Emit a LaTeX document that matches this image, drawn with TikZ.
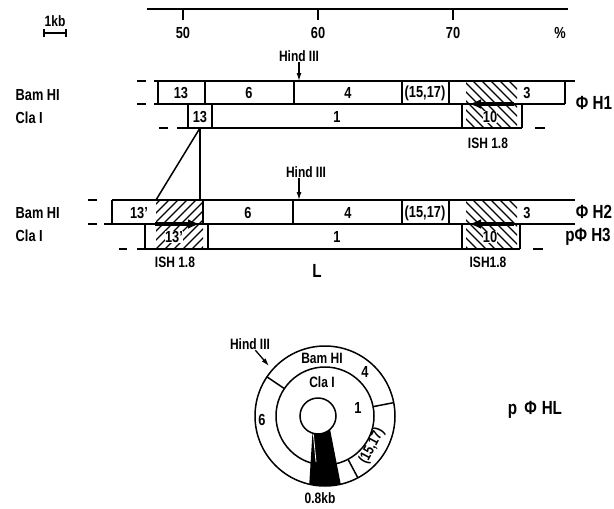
\documentclass[tikz,border=0pt]{standalone}
\usepackage{fontspec}
\setmainfont{Liberation Sans}[FakeStretch=0.8]
\usetikzlibrary{arrows.meta,calc}

\tikzset{
  lbl/.style={font=\fontsize{16}{18}\bfseries, inner sep=0.5pt},
  sml/.style={font=\fontsize{15}{17}\bfseries, inner sep=0.5pt},
  big/.style={font=\fontsize{19}{22}\bfseries, inner sep=0.5pt},
  seg/.style={line width=1.5pt},
  hatch/.style={line width=1.2pt},
  fwd/.style={line width=4pt, -{Latex[length=12pt,width=10pt]}},
  site/.style={line width=1.3pt, -{Latex[length=8pt,width=5pt]}},
}

\begin{document}
\begin{tikzpicture}[x=1pt,y=-1pt]
        \useasboundingbox (0,0) rectangle (614,509);

        % percent scale
        \draw[seg] (147,9) -- (568,9);
        \foreach \x/\p in {183/50,318/60,453/70} {
          \draw[seg] (\x,9) -- (\x,20);
          \node[lbl] (p\p) at (\x,33) {\p};
        }
        \node[lbl] (pct) at (560,33) {\%};

        % 1 kb bar
        \draw[seg] (44,33) -- (66,33);
        \draw[seg] (44,29) -- (44,37);
        \draw[seg] (66,29) -- (66,37);
        \node[sml] (kb) at (55,21) {1kb};

        % left row names
        \node[lbl, anchor=west] (bam1) at (15,95) {Bam HI};
        \node[lbl, anchor=west] (cla1) at (15,118) {Cla I};
        \node[lbl, anchor=west] (bam2) at (15,213) {Bam HI};
        \node[lbl, anchor=west] (cla2) at (15,236) {Cla I};

        % ---- phi H1
        \begin{scope}
          \clip (466,81) rectangle (517,128);
          \foreach \h in {0,9,...,99}
            \draw[hatch] (419+\h,81) -- (466+\h,128);
        \end{scope}
        \draw[seg] (154,81) -- (575,81);
        \draw[seg] (154,104) -- (565,104);
        \draw[seg] (177,128) -- (522,128);
        \foreach \x in {158,205,294,402,449,565}
          \draw[seg] (\x,81) -- (\x,104);
        \foreach \x in {188,212,462,522}
          \draw[seg] (\x,104) -- (\x,128);
        \foreach \y in {81,104}
          \draw[seg] (137,\y) -- (146,\y);
        \draw[seg] (159,128) -- (168,128);
        \draw[seg] (535,128) -- (545,128);

        \node[lbl] (b13) at (181,93) {13};
        \node[lbl] (b6) at (249,93) {6};
        \node[lbl] (b4) at (348,93) {4};
        \node[lbl] (b15) at (425,93) {(15,17)};
        \node[lbl, fill=white] (b3) at (527,93) {3};
        \node[lbl] (c13) at (200,117) {13};
        \node[lbl] (c1) at (337,117) {1};
        \node[lbl, fill=white, inner sep=0pt] (c10) at (490,117) {10};
        \node[sml] (ish1) at (488,143) {ISH 1.8};
        \node[big] (phi1) at (594,103) {Φ H1};
        \draw[fwd] (514,104) -- (469,104);

        \node[sml] (hind1) at (299,56) {Hind III};
        \coordinate (hind1t) at (299,81);
        \draw[site] (hind1) -- (hind1t);

        % fragment 13 carried down
        \coordinate (apex) at (200,128);
        \coordinate (footL) at (156,200);
        \coordinate (footR) at (200,200);
        \draw[seg] (apex) -- (footL);
        \draw[seg] (apex) -- (footR);

        % ---- phi H2 / p phi H3
        \begin{scope}
          \clip (156,200) rectangle (203,249);
          \foreach \h in {-54,-45,...,54}
            \draw[hatch] (156+\h,249) -- (205+\h,200);
        \end{scope}
        \begin{scope}
          \clip (466,200) rectangle (517,249);
          \foreach \h in {0,9,...,99}
            \draw[hatch] (419+\h,200) -- (468+\h,249);
        \end{scope}
        \draw[seg] (112,200) -- (575,200);
        \draw[seg] (104,224) -- (575,224);
        \draw[seg] (137,249) -- (520,249);
        \foreach \x in {112,203,293,402,449}
          \draw[seg] (\x,200) -- (\x,224);
        \foreach \x in {145,208,462,520}
          \draw[seg] (\x,224) -- (\x,249);
        \foreach \y in {200,224}
          \draw[seg] (88,\y) -- (97,\y);
        \draw[seg] (119,249) -- (127,249);
        \draw[seg] (533,249) -- (543,249);

        \node[lbl, fill=white] (bb13) at (139,213) {13'};
        \node[lbl] (bb6) at (248,213) {6};
        \node[lbl] (bb4) at (348,213) {4};
        \node[lbl] (bb15) at (425,213) {(15,17)};
        \node[lbl, fill=white] (bb3) at (527,213) {3};
        \node[lbl, fill=white, inner sep=0pt] (cc13) at (174,237) {13'};
        \node[lbl] (cc1) at (337,237) {1};
        \node[lbl, fill=white, inner sep=0pt] (cc10) at (490,237) {10};
        \node[sml] (ish2) at (175,262) {ISH 1.8};
        \node[sml] (ish3) at (488,262) {ISH1.8};
        \node[big] (bigL) at (317,271) {L};
        \node[big] (phi2) at (594,212) {Φ H2};
        \node[big] (phi3) at (588,237) {pΦ H3};
        \draw[fwd] (155,224) -- (200,224);
        \draw[fwd] (514,224) -- (469,224);

        \node[sml] (hind2) at (306,172) {Hind III};
        \coordinate (hind2t) at (299,200);
        \draw[site] (hind2.south west -| hind2t) -- (hind2t);

        % ---- circular map p phi HL
        \coordinate (O) at (325,416);
        \coordinate (I) at (318,416);
        \fill ($(I)+(252:18pt)$) -- ($(O)+(257:70pt)$)
          arc[start angle=257, end angle=283, radius=70pt]
          -- ($(I)+(312:18pt)$)
          arc[start angle=312, end angle=252, radius=18pt] -- cycle;
        \draw[white, line width=0.8pt] ($(I)+(256:19pt)$) -- ($(O)+(259:47pt)$);
        \draw[seg] (O) circle (70pt);
        \draw[seg] (O) circle (49pt);
        \draw[seg, fill=white] (I) circle (18pt);
        \foreach \a in {146,11,-62}
          \draw[seg] ($(O)+(\a:49pt)$) -- ($(O)+(\a:70pt)$);

        \node[sml] (cbam) at (322,358) {Bam HI};
        \node[sml] (ccla) at (322,382) {Cla I};
        \node[lbl] (c4) at (365,372) {4};
        \node[lbl] (cone) at (358,408) {1};
        \node[lbl] (c6) at (262,420) {6};
        \node[sml, rotate=62] (c15) at (372,446) {(15,17)};
        \node[sml] (ckb) at (320,498) {0.8kb};

        \node[sml] (hindc) at (250,344) {Hind III};
        \coordinate (hindct) at (269,366);
        \draw[site] (hindc) -- (hindct);

        \node[big] (phl) at (535,410) {p\hspace{7pt}Φ\hspace{5pt}HL};
      \end{tikzpicture}
\end{document}
